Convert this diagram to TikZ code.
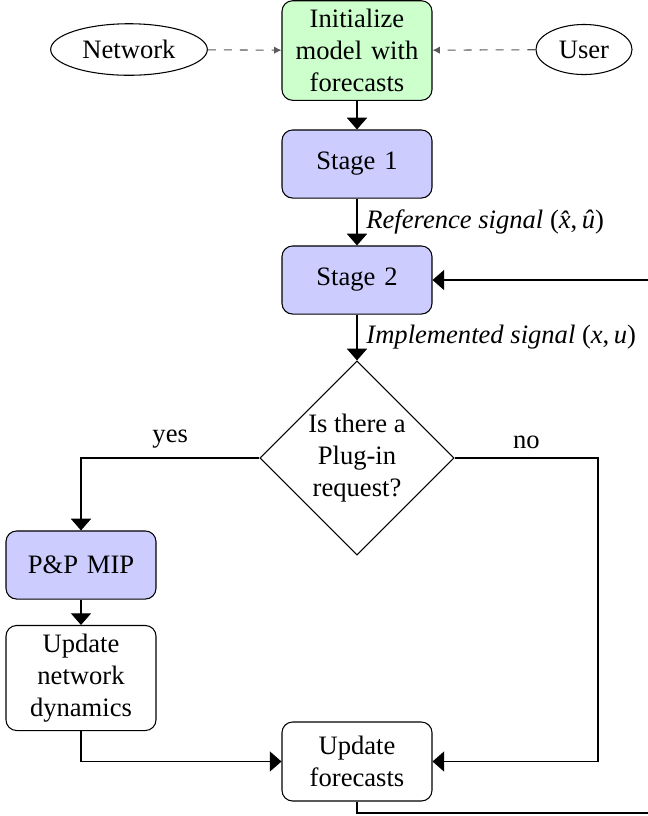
\documentclass[tikz,border=0pt]{standalone}
\usepackage{xcolor}
\usepackage{amsmath}
\usepackage{fontspec}
\setmainfont{Liberation Serif}
\usepackage{tikz}
\usetikzlibrary{calc}
\usetikzlibrary{arrows.meta}
\usetikzlibrary{shapes}
\usetikzlibrary{positioning}
\usetikzlibrary{shapes.geometric}

\tikzset{
  stagebox/.style={rectangle, rounded corners, draw=black, fill=blue!20, text width=50pt, align=center, inner sep=3.2pt, minimum height=25.6pt},
  plainbox/.style={rectangle, rounded corners, draw=black, fill=white, text width=50pt, align=center, inner sep=3.2pt, minimum height=25.6pt},
  sourceoval/.style={ellipse, draw=black},
  decision/.style={diamond, draw=black, align=center, inner sep=0pt, minimum size=73pt},
  flowarrow/.style={-{Triangle[width=7.6pt,length=4.4pt]}, draw=black},
  inputarrow/.style={-{Latex[width=2.8pt,length=2.8pt]}, draw=black!65, dashed}
}

\begin{document}
\begin{tikzpicture}[x=0.376pt, y=-0.376pt]
 \useasboundingbox (0, 0) rectangle (648, 816);
 \node [plainbox, fill=green!20] (init) at (357, 50.5) {Initialize model with forecasts};
 \node [sourceoval] (network) at (129, 49.5) {Network};
 \node [sourceoval] (user) at (584, 49.5) {User};
 \node [stagebox] (stage1) at (357, 164) {Stage 1};
 \node [stagebox] (stage2) at (357, 280) {Stage 2};
 \node [decision] (plugin) at (357, 458) {Is there a\\ Plug-in\\ request?};
 \node [stagebox] (pnp) at (81, 565) {P\&P MIP};
 \node [plainbox] (updnet) at (81, 678) {Update network dynamics};
 \node [plainbox, minimum height=29.7pt] (updfc) at (357, 761.5) {Update forecasts};
 \coordinate (noturn) at (598, 458);
 \coordinate (loopcorner) at (651, 813);
 \draw [inputarrow] (network) to (init);
 \draw [inputarrow] (user) to (init);
 \draw [flowarrow] (init) to (stage1);
 \draw [flowarrow] (stage1) to node [right, midway] {\textit{Reference signal} (\textit{\^x},\,\textit{\^u})} (stage2);
 \draw [flowarrow] (stage2) to node [right, midway] {\textit{Implemented signal} (\textit{x},\,\textit{u})} (plugin);
 \draw [flowarrow] (plugin.west) -| node [above, pos=0.25] {yes} (pnp.north);
 \draw [flowarrow] (plugin.east) -- node [above, midway] {no} (noturn) |- (updfc.east);
 \draw [flowarrow] (pnp) to (updnet);
 \draw [flowarrow] (updnet.south) |- (updfc.west);
 \draw [flowarrow] (updfc.south) |- (loopcorner) |- (stage2.east);
\end{tikzpicture}
\end{document}
